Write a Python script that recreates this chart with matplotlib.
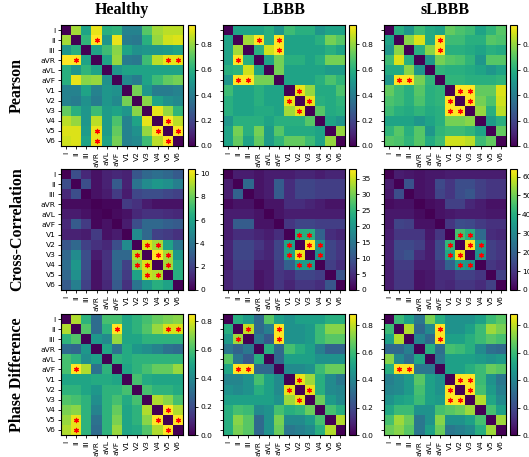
import numpy as np
import matplotlib
matplotlib.use("Agg")
import matplotlib.pyplot as plt

# leads
leads = ["I", "II", "III", "aVR", "aVL", "aVF", "V1", "V2", "V3", "V4", "V5", "V6"]
groups = ["Healthy", "LBBB", "sLBBB"]
measures = ["Pearson", "Cross-Correlation", "Phase Difference"]

# pearson matrices
pearson_healthy = [
    [0, 0.82, 0.55, 0.92, 0.60, 0.62, 0.42, 0.42, 0.70, 0.82, 0.85, 0.85],
    [0.82, 0, 0.62, 0.95, 0.50, 0.92, 0.40, 0.38, 0.60, 0.80, 0.88, 0.90],
    [0.50, 0.60, 0, 0.55, 0.65, 0.78, 0.55, 0.48, 0.50, 0.50, 0.52, 0.55],
    [0.95, 0.95, 0.55, 0, 0.55, 0.80, 0.40, 0.38, 0.65, 0.85, 0.92, 0.92],
    [0.60, 0.50, 0.62, 0.55, 0, 0.50, 0.55, 0.55, 0.55, 0.55, 0.55, 0.55],
    [0.60, 0.92, 0.78, 0.80, 0.48, 0, 0.45, 0.40, 0.55, 0.65, 0.72, 0.75],
    [0.42, 0.42, 0.55, 0.42, 0.50, 0.48, 0, 0.75, 0.50, 0.40, 0.40, 0.42],
    [0.42, 0.40, 0.48, 0.40, 0.50, 0.45, 0.75, 0, 0.78, 0.55, 0.48, 0.45],
    [0.72, 0.60, 0.50, 0.65, 0.52, 0.55, 0.50, 0.78, 0, 0.92, 0.80, 0.62],
    [0.85, 0.80, 0.50, 0.85, 0.52, 0.68, 0.42, 0.55, 0.92, 0, 0.95, 0.85],
    [0.90, 0.90, 0.52, 0.92, 0.52, 0.72, 0.42, 0.48, 0.80, 0.95, 0, 0.95],
    [0.88, 0.90, 0.55, 0.92, 0.55, 0.75, 0.42, 0.45, 0.65, 0.85, 0.95, 0],
]
pearson_lbbb = [
    [0, 0.55, 0.55, 0.55, 0.60, 0.50, 0.65, 0.60, 0.60, 0.50, 0.55, 0.55],
    [0.55, 0, 0.82, 0.95, 0.60, 0.95, 0.55, 0.55, 0.55, 0.60, 0.75, 0.70],
    [0.55, 0.82, 0, 0.60, 0.88, 0.95, 0.55, 0.55, 0.55, 0.55, 0.60, 0.55],
    [0.55, 0.95, 0.60, 0, 0.55, 0.75, 0.60, 0.60, 0.55, 0.60, 0.75, 0.75],
    [0.60, 0.62, 0.88, 0.55, 0, 0.75, 0.55, 0.55, 0.55, 0.55, 0.52, 0.52],
    [0.50, 0.95, 0.95, 0.75, 0.75, 0, 0.55, 0.55, 0.55, 0.60, 0.68, 0.62],
    [0.65, 0.55, 0.55, 0.60, 0.55, 0.55, 0, 0.92, 0.80, 0.58, 0.58, 0.68],
    [0.60, 0.55, 0.55, 0.60, 0.55, 0.55, 0.92, 0, 0.92, 0.60, 0.58, 0.62],
    [0.60, 0.55, 0.55, 0.58, 0.58, 0.55, 0.82, 0.92, 0, 0.70, 0.58, 0.60],
    [0.50, 0.60, 0.60, 0.60, 0.55, 0.60, 0.60, 0.60, 0.70, 0, 0.55, 0.50],
    [0.55, 0.75, 0.60, 0.75, 0.52, 0.70, 0.58, 0.58, 0.58, 0.55, 0, 0.80],
    [0.55, 0.72, 0.55, 0.72, 0.52, 0.62, 0.72, 0.72, 0.65, 0.55, 0.80, 0],
]
pearson_slbbb = [
    [0, 0.60, 0.50, 0.65, 0.58, 0.55, 0.72, 0.68, 0.65, 0.55, 0.62, 0.70],
    [0.55, 0, 0.78, 0.90, 0.58, 0.95, 0.65, 0.65, 0.60, 0.60, 0.70, 0.68],
    [0.50, 0.78, 0, 0.60, 0.78, 0.95, 0.60, 0.60, 0.58, 0.55, 0.60, 0.58],
    [0.65, 0.90, 0.60, 0, 0.50, 0.75, 0.70, 0.68, 0.62, 0.50, 0.70, 0.70],
    [0.58, 0.58, 0.78, 0.50, 0, 0.62, 0.60, 0.60, 0.58, 0.55, 0.50, 0.55],
    [0.50, 0.95, 0.95, 0.75, 0.62, 0, 0.62, 0.62, 0.60, 0.60, 0.60, 0.62],
    [0.72, 0.65, 0.60, 0.70, 0.60, 0.62, 0, 0.95, 0.95, 0.72, 0.72, 0.90],
    [0.68, 0.65, 0.60, 0.68, 0.60, 0.62, 0.95, 0, 0.95, 0.75, 0.68, 0.88],
    [0.65, 0.60, 0.58, 0.62, 0.58, 0.60, 0.95, 0.95, 0, 0.80, 0.60, 0.85],
    [0.55, 0.55, 0.55, 0.50, 0.55, 0.60, 0.75, 0.75, 0.78, 0, 0.52, 0.60],
    [0.62, 0.70, 0.60, 0.70, 0.50, 0.62, 0.65, 0.65, 0.62, 0.55, 0, 0.72],
    [0.70, 0.68, 0.62, 0.70, 0.58, 0.65, 0.88, 0.88, 0.85, 0.65, 0.72, 0],
]

# cross-correlation matrices
xcorr_healthy = [
    [0, 2.5, 1.2, 0.5, 1.0, 1.2, 1.0, 2.8, 3.5, 3.8, 3.5, 3.0],
    [2.5, 0, 2.5, 0.5, 1.0, 3.0, 1.0, 4.0, 5.0, 5.5, 5.2, 4.5],
    [1.2, 2.5, 0, 0.5, 0.8, 1.8, 0.8, 2.2, 2.5, 2.5, 2.2, 2.0],
    [0.3, 0.3, 0.3, 0, 0.2, 0.2, 1.8, 1.5, 0.8, 0.5, 0.5, 0.5],
    [0.8, 0.8, 0.5, 0.2, 0, 0.3, 0.5, 1.2, 1.5, 1.5, 1.3, 1.2],
    [1.2, 3.0, 1.8, 0.2, 0.5, 0, 0.8, 2.5, 3.5, 3.5, 3.2, 3.0],
    [1.0, 1.0, 0.8, 1.8, 0.5, 0.8, 0, 5.0, 3.5, 2.0, 1.8, 1.5],
    [2.8, 3.5, 2.0, 1.5, 1.2, 2.5, 5.0, 0, 9.8, 9.0, 6.0, 4.0],
    [3.5, 5.0, 2.5, 0.8, 1.5, 3.5, 3.5, 9.2, 0, 10.4, 9.0, 5.5],
    [3.8, 5.5, 2.5, 0.5, 1.5, 3.5, 2.0, 8.5, 9.8, 0, 9.0, 6.5],
    [3.5, 5.2, 2.2, 0.5, 1.3, 3.2, 1.8, 6.0, 9.5, 9.2, 0, 6.5],
    [3.0, 4.5, 2.0, 0.5, 1.2, 3.0, 1.5, 4.0, 5.5, 6.5, 6.0, 0],
]
xcorr_lbbb = [
    [0, 3, 3, 2, 3, 3, 3, 4, 4, 3, 4, 4],
    [3, 0, 13, 2, 3, 11, 5, 8, 8, 7, 7, 7],
    [3, 12, 0, 2, 3, 11, 5, 8, 8, 7, 7, 7],
    [1, 2, 2, 0, 2, 2, 5, 5, 4, 3, 2, 2],
    [3, 3, 3, 2, 0, 2, 3, 3, 3, 3, 3, 3],
    [3, 11, 11, 2, 2, 0, 6, 8, 8, 7, 7, 7],
    [3, 5, 5, 4, 3, 5, 0, 24, 24, 12, 5, 4],
    [4, 8, 8, 6, 4, 8, 22, 0, 38, 20, 8, 6],
    [4, 8, 8, 5, 4, 8, 22, 37, 0, 19, 8, 6],
    [3, 7, 7, 3, 3, 7, 12, 21, 21, 0, 7, 5],
    [4, 6, 6, 2, 3, 6, 5, 8, 8, 7, 0, 10],
    [4, 6, 6, 2, 3, 6, 4, 6, 6, 5, 10, 0],
]
xcorr_slbbb = [
    [0, 5, 4, 3, 4, 4, 5, 5, 5, 5, 5, 5],
    [5, 0, 16, 3, 4, 14, 10, 15, 15, 12, 10, 10],
    [4, 15, 0, 3, 4, 13, 10, 15, 17, 12, 10, 10],
    [2, 3, 3, 0, 2, 3, 12, 12, 7, 5, 3, 3],
    [4, 4, 4, 2, 0, 3, 4, 5, 5, 5, 4, 4],
    [4, 13, 12, 3, 3, 0, 10, 15, 14, 11, 9, 9],
    [5, 10, 10, 10, 4, 10, 0, 45, 40, 22, 8, 7],
    [6, 14, 14, 12, 5, 14, 42, 0, 64, 35, 12, 10],
    [6, 14, 16, 8, 5, 14, 38, 62, 0, 32, 12, 10],
    [5, 11, 11, 5, 5, 10, 20, 35, 33, 0, 10, 8],
    [5, 10, 10, 3, 4, 8, 8, 12, 12, 10, 0, 12],
    [5, 10, 10, 3, 4, 8, 7, 10, 10, 8, 12, 0],
]

# phase difference matrices
phase_healthy = [
    [0, 0.75, 0.55, 0.30, 0.60, 0.60, 0.50, 0.55, 0.60, 0.65, 0.68, 0.70],
    [0.75, 0, 0.62, 0.30, 0.55, 0.85, 0.50, 0.55, 0.62, 0.72, 0.80, 0.80],
    [0.55, 0.62, 0, 0.45, 0.40, 0.72, 0.50, 0.50, 0.55, 0.55, 0.55, 0.55],
    [0.30, 0.28, 0.45, 0, 0.50, 0.32, 0.52, 0.45, 0.42, 0.38, 0.32, 0.30],
    [0.60, 0.55, 0.42, 0.48, 0, 0.55, 0.52, 0.55, 0.55, 0.55, 0.55, 0.55],
    [0.60, 0.85, 0.75, 0.32, 0.55, 0, 0.50, 0.55, 0.60, 0.65, 0.65, 0.72],
    [0.50, 0.50, 0.50, 0.52, 0.52, 0.50, 0, 0.60, 0.52, 0.50, 0.50, 0.50],
    [0.55, 0.55, 0.50, 0.45, 0.55, 0.55, 0.60, 0, 0.60, 0.55, 0.55, 0.52],
    [0.62, 0.60, 0.55, 0.42, 0.55, 0.60, 0.52, 0.60, 0, 0.75, 0.70, 0.60],
    [0.68, 0.70, 0.55, 0.38, 0.55, 0.65, 0.50, 0.55, 0.75, 0, 0.85, 0.75],
    [0.72, 0.82, 0.55, 0.32, 0.55, 0.68, 0.50, 0.55, 0.70, 0.85, 0, 0.85],
    [0.75, 0.82, 0.55, 0.30, 0.55, 0.72, 0.50, 0.52, 0.62, 0.75, 0.85, 0],
]
phase_lbbb = [
    [0, 0.55, 0.48, 0.30, 0.65, 0.50, 0.45, 0.50, 0.50, 0.50, 0.55, 0.55],
    [0.55, 0, 0.80, 0.30, 0.38, 0.88, 0.45, 0.45, 0.48, 0.60, 0.72, 0.72],
    [0.48, 0.75, 0, 0.35, 0.25, 0.88, 0.45, 0.45, 0.48, 0.60, 0.65, 0.65],
    [0.35, 0.28, 0.35, 0, 0.55, 0.30, 0.62, 0.55, 0.50, 0.38, 0.28, 0.28],
    [0.65, 0.35, 0.25, 0.55, 0, 0.30, 0.50, 0.50, 0.50, 0.45, 0.45, 0.45],
    [0.52, 0.88, 0.88, 0.30, 0.30, 0, 0.42, 0.42, 0.45, 0.60, 0.68, 0.68],
    [0.40, 0.40, 0.45, 0.62, 0.50, 0.42, 0, 0.85, 0.75, 0.55, 0.42, 0.35],
    [0.45, 0.42, 0.45, 0.55, 0.50, 0.42, 0.85, 0, 0.85, 0.55, 0.42, 0.40],
    [0.50, 0.50, 0.50, 0.50, 0.50, 0.45, 0.75, 0.85, 0, 0.68, 0.48, 0.42],
    [0.55, 0.62, 0.60, 0.42, 0.45, 0.62, 0.55, 0.58, 0.68, 0, 0.62, 0.55],
    [0.55, 0.72, 0.65, 0.30, 0.45, 0.70, 0.42, 0.42, 0.48, 0.62, 0, 0.78],
    [0.55, 0.70, 0.65, 0.30, 0.45, 0.68, 0.35, 0.38, 0.42, 0.55, 0.78, 0],
]
phase_slbbb = [
    [0, 0.60, 0.50, 0.35, 0.70, 0.55, 0.45, 0.45, 0.45, 0.50, 0.60, 0.65],
    [0.60, 0, 0.78, 0.30, 0.42, 0.88, 0.45, 0.45, 0.50, 0.60, 0.75, 0.70],
    [0.50, 0.78, 0, 0.40, 0.30, 0.88, 0.50, 0.50, 0.55, 0.60, 0.65, 0.62],
    [0.30, 0.30, 0.38, 0, 0.55, 0.32, 0.62, 0.60, 0.55, 0.42, 0.32, 0.30],
    [0.72, 0.42, 0.32, 0.52, 0, 0.35, 0.50, 0.50, 0.50, 0.48, 0.45, 0.48],
    [0.55, 0.88, 0.88, 0.35, 0.35, 0, 0.50, 0.50, 0.55, 0.60, 0.68, 0.65],
    [0.38, 0.42, 0.48, 0.65, 0.50, 0.45, 0, 0.88, 0.88, 0.60, 0.45, 0.35],
    [0.40, 0.42, 0.48, 0.62, 0.50, 0.45, 0.88, 0, 0.88, 0.62, 0.48, 0.38],
    [0.45, 0.50, 0.52, 0.60, 0.50, 0.48, 0.88, 0.88, 0, 0.78, 0.52, 0.42],
    [0.52, 0.60, 0.60, 0.45, 0.45, 0.62, 0.65, 0.68, 0.75, 0, 0.62, 0.50],
    [0.62, 0.75, 0.68, 0.35, 0.45, 0.72, 0.45, 0.45, 0.50, 0.62, 0, 0.75],
    [0.68, 0.72, 0.65, 0.35, 0.50, 0.68, 0.35, 0.38, 0.42, 0.55, 0.75, 0],
]

# significant cells (row, col)
sig_pearson_healthy = [(1, 3), (3, 1), (3, 10), (3, 11), (9, 10), (10, 3), (10, 9), (10, 11), (11, 3), (11, 10)]
sig_pearson_lbbb = [(1, 3), (1, 5), (2, 5), (3, 1), (5, 1), (5, 2), (6, 7), (7, 6), (7, 8), (8, 7)]
sig_pearson_slbbb = [(1, 5), (2, 5), (5, 1), (5, 2), (6, 7), (6, 8), (7, 6), (7, 8), (8, 6), (8, 7)]
sig_xcorr_healthy = [(7, 8), (7, 9), (8, 7), (8, 9), (8, 10), (9, 7), (9, 8), (9, 10), (10, 8), (10, 9)]
sig_xcorr_lbbb = [(6, 7), (6, 8), (7, 6), (7, 8), (7, 9), (8, 6), (8, 7), (8, 9), (9, 7), (9, 8)]
sig_xcorr_slbbb = [(6, 7), (6, 8), (7, 6), (7, 8), (7, 9), (8, 6), (8, 7), (8, 9), (9, 7), (9, 8)]
sig_phase_healthy = [(1, 5), (1, 10), (1, 11), (5, 1), (9, 10), (10, 1), (10, 9), (10, 11), (11, 1), (11, 10)]
sig_phase_lbbb = [(1, 2), (1, 5), (2, 1), (2, 5), (5, 1), (5, 2), (6, 7), (7, 6), (7, 8), (8, 7)]
sig_phase_slbbb = [(1, 5), (2, 5), (5, 1), (5, 2), (6, 7), (6, 8), (7, 6), (7, 8), (8, 6), (8, 7)]

mats = [[pearson_healthy, pearson_lbbb, pearson_slbbb],
        [xcorr_healthy, xcorr_lbbb, xcorr_slbbb],
        [phase_healthy, phase_lbbb, phase_slbbb]]
sigs = [[sig_pearson_healthy, sig_pearson_lbbb, sig_pearson_slbbb],
        [sig_xcorr_healthy, sig_xcorr_lbbb, sig_xcorr_slbbb],
        [sig_phase_healthy, sig_phase_lbbb, sig_phase_slbbb]]

W, H = 529, 457
fig = plt.figure(figsize=(W / 100, H / 100), dpi=100)

col_left = [61, 223, 384]
cbar_left = [188, 349, 510]
row_top = [25, 169, 314]
hm_w, hm_h = 122, 121
serif = "Liberation Serif"

for r in range(3):
    for c in range(3):
        data = np.array(mats[r][c], dtype=float)
        ax = fig.add_axes([col_left[c] / W, 1 - (row_top[r] + hm_h) / H, hm_w / W, hm_h / H])
        im = ax.imshow(data, cmap="viridis", vmin=0, vmax=data.max(), aspect="auto")
        # asterisks on significant cells
        rr = [p[0] for p in sigs[r][c]]
        cc = [p[1] for p in sigs[r][c]]
        ax.scatter(cc, rr, marker=(6, 2, 0), s=9, color="red", linewidths=0.9)
        ax.set_xticks(range(12))
        ax.set_yticks(range(12))
        ax.set_xticklabels(leads, rotation=90, fontsize=5.4)
        ax.set_yticklabels(leads, fontsize=5.4)
        ax.tick_params(length=2.5, width=0.6, pad=1.5)
        if c > 0:
            ax.tick_params(labelleft=False)
        for s in ax.spines.values():
            s.set_linewidth(0.8)

        cax = fig.add_axes([cbar_left[c] / W, 1 - (row_top[r] + hm_h) / H, 6.5 / W, hm_h / H])
        cb = fig.colorbar(im, cax=cax)
        cb.ax.tick_params(labelsize=5.4, length=2.5, width=0.6, pad=1.5)
        cb.outline.set_linewidth(0.8)

    fig.text(17 / W, 1 - (row_top[r] + hm_h / 2) / H, measures[r], rotation=90,
             ha="center", va="center", fontsize=11.5, fontweight="bold", family=serif)

for c in range(3):
    fig.text((col_left[c] + hm_w / 2) / W, 1 - 10 / H, groups[c], ha="center", va="center",
             fontsize=11.5, fontweight="bold", family=serif)

fig.savefig("out.png", dpi=100)
